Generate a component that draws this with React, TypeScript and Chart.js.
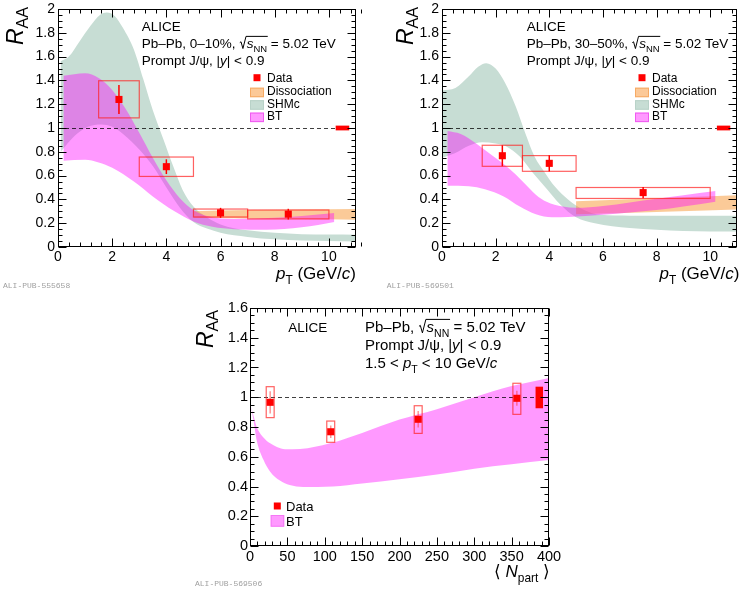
import React, { useEffect, useRef } from "react";
import { Chart, registerables } from "chart.js";
Chart.register(...registerables);

type XY = [number, number];

// ---------------- Panel A : Pb–Pb 0–10 %, R_AA vs pT ----------------
const ptA = [2.25, 4, 6, 8.5];
const raaA = [1.24, 0.675, 0.287, 0.276];
const statA = [0.122, 0.062, 0.042, 0.045];
const sysLowA = [1.085, 0.593, 0.252, 0.236];
const sysHighA = [1.397, 0.756, 0.319, 0.311];
const binLowA = [1.5, 3, 5, 7];
const binHighA = [3, 5, 7, 10];
const globXA = [10.25, 10.75];
const globYA = [0.98, 1.02];
const shmcHighA: XY[] = [[0.1, 1.56], [0.4, 1.6], [0.8, 1.73], [1.2, 1.86], [1.55, 1.95], [1.8, 1.97], [2.1, 1.94], [2.4, 1.84], [2.8, 1.66], [3.15, 1.41], [3.5, 1.15], [3.9, 0.9], [4.25, 0.68], [4.6, 0.48], [5, 0.34], [5.5, 0.25], [6, 0.19], [7, 0.14], [8, 0.12], [9, 0.108], [10, 0.104], [11, 0.103]];
const shmcLowA: XY[] = [[0.1, 0.8], [0.6, 0.93], [1.1, 1.01], [1.6, 1.03], [2.0, 1.01], [2.4, 0.95], [3, 0.82], [3.5, 0.68], [4, 0.5], [4.5, 0.33], [5, 0.21], [5.5, 0.155], [6, 0.12], [7, 0.085], [8, 0.065], [9, 0.055], [10, 0.05], [11, 0.047]];
const btHighA: XY[] = [[0.2, 1.44], [1, 1.46], [1.5, 1.42], [2, 1.32], [2.5, 1.16], [3, 0.96], [3.5, 0.75], [4, 0.56], [4.5, 0.41], [5, 0.31], [5.5, 0.26], [6.5, 0.235], [8, 0.245], [9, 0.26], [10.2, 0.285]];
const btLowA: XY[] = [[0.2, 0.725], [1, 0.733], [1.5, 0.71], [2, 0.665], [2.8, 0.55], [3.5, 0.425], [4.3, 0.3], [5, 0.215], [5.7, 0.17], [6.5, 0.15], [7.7, 0.145], [9, 0.165], [10.2, 0.21]];
const dissHighA: XY[] = [[5, 0.3], [7, 0.31], [9, 0.315], [11, 0.32]];
const dissLowA: XY[] = [[5, 0.245], [7, 0.24], [9, 0.235], [11, 0.23]];

// ---------------- Panel B : Pb–Pb 30–50 %, R_AA vs pT ----------------
const ptB = [2.25, 4, 7.5];
const raaB = [0.767, 0.703, 0.457];
const statB = [0.088, 0.068, 0.047];
const sysLowB = [0.678, 0.636, 0.408];
const sysHighB = [0.855, 0.768, 0.5];
const binLowB = [1.5, 3, 5];
const binHighB = [3, 5, 10];
const globXB = [10.25, 10.75];
const globYB = [0.98, 1.02];
const shmcHighB: XY[] = [[0, 1.316], [0.5, 1.336], [1, 1.434], [1.35, 1.515], [1.65, 1.545], [2, 1.5], [2.35, 1.38], [2.75, 1.18], [3.1, 0.96], [3.45, 0.76], [3.85, 0.62], [4.2, 0.51], [4.7, 0.4], [5.3, 0.31], [5.9, 0.27], [7, 0.263], [11, 0.263]];
const shmcLowB: XY[] = [[0, 0.75], [0.5, 0.79], [1, 0.85], [1.5, 0.88], [2, 0.87], [2.4, 0.845], [2.9, 0.76], [3.4, 0.62], [3.9, 0.49], [4.4, 0.36], [5, 0.25], [5.7, 0.2], [7, 0.16], [8, 0.145], [9, 0.135], [11, 0.13]];
const btHighB: XY[] = [[0.2, 0.975], [0.7, 0.95], [1.25, 0.875], [1.75, 0.79], [2.25, 0.705], [2.75, 0.61], [3.1, 0.53], [3.5, 0.44], [3.9, 0.38], [4.5, 0.34], [5, 0.33], [6, 0.345], [7, 0.375], [8, 0.405], [9, 0.435], [10.2, 0.47]];
const btLowB: XY[] = [[0.2, 0.515], [1, 0.51], [1.6, 0.485], [2.3, 0.425], [2.9, 0.34], [3.5, 0.275], [4.1, 0.25], [4.7, 0.252], [6, 0.27], [7, 0.29], [8, 0.31], [9, 0.34], [10.2, 0.38]];
const dissHighB: XY[] = [[5, 0.385], [8, 0.41], [11, 0.435]];
const dissLowB: XY[] = [[5, 0.275], [8, 0.295], [11, 0.315]];

// ---------------- Panel C : R_AA vs <Npart> ----------------
const npartC = [27, 108, 225, 357];
const raaC = [0.966, 0.768, 0.852, 0.993];
const statC = [0.075, 0.042, 0.055, 0.05];
const sysLowC = [0.863, 0.697, 0.757, 0.885];
const sysHighC = [1.071, 0.84, 0.943, 1.094];
const binLowC = [21.7, 102.7, 219.7, 351.7];
const binHighC = [32.3, 113.3, 230.3, 362.3];
const globXC = [382, 392];
const globYC = [0.926, 1.071];
const btHighC: XY[] = [[1.5, 0.935], [5, 0.87], [9, 0.8], [18, 0.73], [27, 0.69], [36, 0.665], [47, 0.65], [67, 0.652], [107, 0.69], [150, 0.76], [200, 0.85], [250, 0.92], [300, 1.0], [350, 1.075], [400, 1.13]];
const btLowC: XY[] = [[1.5, 0.935], [4.5, 0.85], [9, 0.71], [18, 0.58], [27, 0.5], [40, 0.44], [53, 0.41], [71, 0.397], [111, 0.4], [150, 0.42], [200, 0.448], [250, 0.48], [300, 0.52], [350, 0.55], [400, 0.578]];

// ---------------- axis ticks ----------------
const xTicksPt = [0, 2, 4, 6, 8, 10];
const yTicksPt = [0, 0.2, 0.4, 0.6, 0.8, 1, 1.2, 1.4, 1.6, 1.8, 2];
const xTicksNpart = [0, 50, 100, 150, 200, 250, 300, 350, 400];
const yTicksNpart = [0, 0.2, 0.4, 0.6, 0.8, 1, 1.2, 1.4, 1.6];

// ---------------- styles ----------------
const FONT = '"Liberation Sans", Arial, Helvetica, sans-serif';
const SHMC_COLOR = "rgb(199,221,212)";
const DISS_COLOR = "rgba(248,150,50,0.5)";
const BT_COLOR = "rgba(255,0,255,0.4)";
const RED = "#ff0000";
const BOX_COLOR = "rgba(255,30,30,0.7)";

type Seg = { t?: string; it?: boolean; sub?: boolean; open?: boolean; close?: boolean };

function fontStr(size: number, it?: boolean) {
  return `${it ? "italic " : ""}${size}px ${FONT}`;
}
function segWidth(ctx: CanvasRenderingContext2D, s: Seg, size: number) {
  if (s.open) return size * 0.55;
  if (s.close) return 0;
  ctx.font = fontStr(s.sub ? size * 0.7 : size, s.it);
  return ctx.measureText(s.t || "").width;
}
function drawRich(ctx: CanvasRenderingContext2D, segs: Seg[], x: number, y: number, size: number, align: "left" | "right" | "center" = "left", subShift = 0.28) {
  const total = segs.reduce((a, s) => a + segWidth(ctx, s, size), 0);
  let cx = align === "left" ? x : align === "right" ? x - total : x - total / 2;
  let radStart = 0;
  ctx.fillStyle = "#000";
  ctx.strokeStyle = "#000";
  ctx.textBaseline = "alphabetic";
  ctx.textAlign = "left";
  for (const s of segs) {
    const w = segWidth(ctx, s, size);
    if (s.open) {
      ctx.lineWidth = 1;
      ctx.beginPath();
      ctx.moveTo(cx + 0.04 * size, y - 0.4 * size);
      ctx.lineTo(cx + 0.13 * size, y - 0.46 * size);
      ctx.lineTo(cx + 0.27 * size, y + 0.04 * size);
      ctx.lineTo(cx + 0.5 * size, y - 0.86 * size);
      ctx.stroke();
      radStart = cx + 0.5 * size;
    } else if (s.close) {
      ctx.lineWidth = 1;
      ctx.beginPath();
      ctx.moveTo(radStart, y - 0.86 * size);
      ctx.lineTo(cx + 0.05 * size, y - 0.86 * size);
      ctx.stroke();
    } else {
      ctx.font = fontStr(s.sub ? size * 0.7 : size, s.it);
      ctx.fillText(s.t || "", cx, y + (s.sub ? size * subShift : 0));
    }
    cx += w;
  }
}
function drawRotatedTitle(ctx: CanvasRenderingContext2D, bx: number, topY: number, size: number) {
  ctx.save();
  ctx.translate(bx, topY);
  ctx.rotate(-Math.PI / 2);
  drawRich(ctx, [{ t: "R", it: true }, { t: "AA", sub: true }], 0, 0, size, "right", 0.22);
  ctx.restore();
}
function drawAliTag(ctx: CanvasRenderingContext2D, text: string, x: number, y: number) {
  ctx.save();
  ctx.font = `8px "Liberation Mono", "DejaVu Sans Mono", monospace`;
  ctx.fillStyle = "#a0a0a0";
  ctx.textAlign = "left";
  ctx.textBaseline = "alphabetic";
  ctx.fillText(text, x, y);
  ctx.restore();
}
function legendBox(ctx: CanvasRenderingContext2D, x: number, y: number, w: number, h: number, fill: string, stroke: string) {
  ctx.fillStyle = fill;
  ctx.fillRect(x, y, w, h);
  ctx.strokeStyle = stroke;
  ctx.lineWidth = 1;
  ctx.strokeRect(x + 0.5, y + 0.5, w - 1, h - 1);
}
function legendText(ctx: CanvasRenderingContext2D, t: string, x: number, y: number, size: number) {
  ctx.font = fontStr(size);
  ctx.fillStyle = "#000";
  ctx.textAlign = "left";
  ctx.textBaseline = "alphabetic";
  ctx.fillText(t, x, y);
}
function legendMarker(ctx: CanvasRenderingContext2D, x: number, y: number, s: number) {
  ctx.fillStyle = RED;
  ctx.fillRect(x - s / 2, y - s / 2, s, s);
}

interface Band { hi: XY[]; lo: XY[]; color: string; order: number }
interface Panel {
  W: number; H: number; left: number; top: number;
  L: number; R: number; T: number; B: number;
  xMin: number; xMax: number; yMin: number; yMax: number;
  xTicks: number[]; yTicks: number[]; xMinor: number; yMinor: number;
  tickFont: number; labelPadX: number; labelPadY: number;
  bands: Band[];
  px: number[]; py: number[]; stat: number[]; sysLo: number[]; sysHi: number[]; binLo: number[]; binHi: number[];
  globX: number[]; globY: number[];
  statColor: string; statWidth: number;
  texts: (ctx: CanvasRenderingContext2D) => void;
}

const ptTitle: Seg[] = [{ t: "p", it: true }, { t: "T", sub: true }, { t: " (GeV/" }, { t: "c", it: true }, { t: ")" }];
const promptLine: Seg[] = [{ t: "Prompt J/ψ, |" }, { t: "y", it: true }, { t: "| < 0.9" }];
const sqrtPart: Seg[] = [{ open: true }, { t: "s", it: true }, { t: "NN", sub: true }, { close: true }, { t: " = 5.02 TeV" }];

function topLegend(ctx: CanvasRenderingContext2D, bx: number) {
  const size = 12;
  legendMarker(ctx, bx + 7, 77.7, 7);
  legendText(ctx, "Data", bx + 17, 81.8, size);
  legendBox(ctx, bx, 87.7, 14, 9.5, "rgb(252,201,152)", "rgb(246,170,100)");
  legendText(ctx, "Dissociation", bx + 17, 95, size);
  legendBox(ctx, bx, 100.2, 14, 9.5, SHMC_COLOR, "rgb(185,210,200)");
  legendText(ctx, "SHMc", bx + 17, 107.8, size);
  legendBox(ctx, bx, 112.6, 14, 9.5, "rgb(255,153,255)", "rgb(240,90,240)");
  legendText(ctx, "BT", bx + 17, 120.4, size);
}

const panelA: Panel = {
  W: 371, H: 295, left: 0, top: 0, L: 58, R: 356, T: 9, B: 247,
  xMin: 0, xMax: 11, yMin: 0, yMax: 2, xTicks: xTicksPt, yTicks: yTicksPt, xMinor: 0.4, yMinor: 0.05,
  tickFont: 14, labelPadX: 2, labelPadY: 3,
  bands: [
    { hi: shmcHighA, lo: shmcLowA, color: SHMC_COLOR, order: 4 },
    { hi: dissHighA, lo: dissLowA, color: DISS_COLOR, order: 3 },
    { hi: btHighA, lo: btLowA, color: BT_COLOR, order: 2 },
  ],
  px: ptA, py: raaA, stat: statA, sysLo: sysLowA, sysHi: sysHighA, binLo: binLowA, binHi: binHighA,
  globX: globXA, globY: globYA, statColor: RED, statWidth: 1.5,
  texts: (ctx) => {
    drawRotatedTitle(ctx, 23, 7, 23);
    drawRich(ctx, [{ t: "ALICE" }], 141.7, 31, 13.5);
    drawRich(ctx, [{ t: "Pb–Pb, 0–10%, " }, ...sqrtPart], 141.7, 48, 13.5);
    drawRich(ctx, promptLine, 141.7, 65, 13.5);
    topLegend(ctx, 250);
    drawRich(ctx, ptTitle, 356, 279, 17, "right");
    drawAliTag(ctx, "ALI-PUB-555658", 3, 288);
  },
};

const panelB: Panel = {
  W: 371, H: 295, left: 371, top: 0, L: 71, R: 368.5, T: 9, B: 247,
  xMin: 0, xMax: 11, yMin: 0, yMax: 2, xTicks: xTicksPt, yTicks: yTicksPt, xMinor: 0.4, yMinor: 0.05,
  tickFont: 14, labelPadX: 2, labelPadY: 3,
  bands: [
    { hi: shmcHighB, lo: shmcLowB, color: SHMC_COLOR, order: 4 },
    { hi: dissHighB, lo: dissLowB, color: DISS_COLOR, order: 3 },
    { hi: btHighB, lo: btLowB, color: BT_COLOR, order: 2 },
  ],
  px: ptB, py: raaB, stat: statB, sysLo: sysLowB, sysHi: sysHighB, binLo: binLowB, binHi: binHighB,
  globX: globXB, globY: globYB, statColor: RED, statWidth: 1.5,
  texts: (ctx) => {
    drawRotatedTitle(ctx, 42, 7, 23);
    drawRich(ctx, [{ t: "ALICE" }], 155.7, 31, 13.5);
    drawRich(ctx, [{ t: "Pb–Pb, 30–50%, " }, ...sqrtPart], 155.7, 48, 13.5);
    drawRich(ctx, promptLine, 155.7, 65, 13.5);
    topLegend(ctx, 264);
    drawRich(ctx, ptTitle, 368.5, 279, 17, "right");
    drawAliTag(ctx, "ALI-PUB-569501", 15.7, 288);
  },
};

const panelC: Panel = {
  W: 400, H: 296, left: 180, top: 295, L: 70, R: 369, T: 13, B: 251,
  xMin: 0, xMax: 400, yMin: 0, yMax: 1.6, xTicks: xTicksNpart, yTicks: yTicksNpart, xMinor: 10, yMinor: 0.05,
  tickFont: 14.5, labelPadX: 2, labelPadY: 2,
  bands: [{ hi: btHighC, lo: btLowC, color: BT_COLOR, order: 2 }],
  px: npartC, py: raaC, stat: statC, sysLo: sysLowC, sysHi: sysHighC, binLo: binLowC, binHi: binHighC,
  globX: globXC, globY: globYC, statColor: "rgba(255,60,60,0.55)", statWidth: 1.5,
  texts: (ctx) => {
    drawRotatedTitle(ctx, 33, 15, 23);
    drawRich(ctx, [{ t: "ALICE" }], 108.3, 37.3, 13.5);
    drawRich(ctx, [{ t: "Pb–Pb, " }, ...sqrtPart], 185, 37.3, 15);
    drawRich(ctx, promptLine, 185, 55, 15);
    drawRich(ctx, [{ t: "1.5 < " }, { t: "p", it: true }, { t: "T", sub: true }, { t: " < 10 GeV/" }, { t: "c", it: true }], 185, 73.3, 15);
    legendMarker(ctx, 97.3, 211, 7);
    legendText(ctx, "Data", 106, 215.5, 13);
    legendBox(ctx, 90.7, 220, 13.5, 11.7, "rgb(255,153,255)", "rgb(245,120,245)");
    legendText(ctx, "BT", 106, 230.5, 13);
    drawRich(ctx, [{ t: "⟨ " }, { t: "N", it: true }, { t: "part", sub: true }, { t: " ⟩" }], 370, 282, 17, "right");
    drawAliTag(ctx, "ALI-PUB-569506", 15, 291);
  },
};

const panels = [panelA, panelB, panelC];

function fmt(v: number) {
  return String(Math.round(v * 1000) / 1000);
}

function makeChart(canvas: HTMLCanvasElement, p: Panel) {
  const datasets: any[] = [];
  for (const b of p.bands) {
    datasets.push({
      data: b.hi.map(([x, y]) => ({ x, y })),
      fill: "+1", backgroundColor: b.color, borderColor: "transparent", borderWidth: 0,
      pointRadius: 0, cubicInterpolationMode: "monotone", order: b.order,
    });
    datasets.push({
      data: b.lo.map(([x, y]) => ({ x, y })),
      fill: false, backgroundColor: b.color, borderColor: "transparent", borderWidth: 0,
      pointRadius: 0, cubicInterpolationMode: "monotone", order: b.order,
    });
  }
  datasets.push({
    isData: true,
    data: p.px.map((x, i) => ({ x, y: p.py[i] })),
    showLine: false, pointStyle: "rect", pointRadius: 5, pointBackgroundColor: RED,
    pointBorderWidth: 0, pointBorderColor: RED, order: 0,
  });

  const decor = {
    id: "decor",
    beforeDatasetDraw(chart: any, args: any) {
      const ds = chart.data.datasets[args.index];
      if (!ds || !ds.isData) return;
      const { ctx, scales: { x, y }, chartArea: a } = chart;
      ctx.save();
      // dashed unity line
      ctx.strokeStyle = "rgba(0,0,0,0.75)";
      ctx.lineWidth = 1;
      ctx.setLineDash([4, 3]);
      const y1 = Math.round(y.getPixelForValue(1)) + 0.5;
      ctx.beginPath();
      ctx.moveTo(x.getPixelForValue(p.xMin), y1);
      ctx.lineTo(x.getPixelForValue(p.xMax), y1);
      ctx.stroke();
      ctx.setLineDash([]);
      // systematic boxes
      ctx.strokeStyle = BOX_COLOR;
      ctx.lineWidth = 1.2;
      for (let i = 0; i < p.px.length; i++) {
        const x0 = x.getPixelForValue(p.binLo[i]);
        const x1 = x.getPixelForValue(p.binHi[i]);
        const yt = y.getPixelForValue(p.sysHi[i]);
        const yb = y.getPixelForValue(p.sysLo[i]);
        ctx.strokeRect(x0, yt, x1 - x0, yb - yt);
      }
      // statistical errors
      ctx.strokeStyle = p.statColor;
      ctx.lineWidth = p.statWidth;
      for (let i = 0; i < p.px.length; i++) {
        const xc = x.getPixelForValue(p.px[i]);
        ctx.beginPath();
        ctx.moveTo(xc, y.getPixelForValue(p.py[i] + p.stat[i]));
        ctx.lineTo(xc, y.getPixelForValue(p.py[i] - p.stat[i]));
        ctx.stroke();
      }
      // global normalisation uncertainty
      ctx.fillStyle = RED;
      const gx0 = x.getPixelForValue(p.globX[0]);
      const gx1 = x.getPixelForValue(p.globX[1]);
      const gy0 = y.getPixelForValue(p.globY[1]);
      const gy1 = y.getPixelForValue(p.globY[0]);
      ctx.fillRect(gx0, gy0, gx1 - gx0, gy1 - gy0);
      ctx.restore();
    },
    afterDraw(chart: any) {
      const { ctx, scales: { x, y }, chartArea: a } = chart;
      ctx.save();
      ctx.strokeStyle = "#000";
      ctx.lineWidth = 1;
      const l = Math.round(a.left) + 0.5, r = Math.round(a.right) - 0.5;
      const t = Math.round(a.top) + 0.5, b = Math.round(a.bottom) - 0.5;
      ctx.strokeRect(l, t, r - l, b - t);
      ctx.beginPath();
      const nx = Math.round((p.xMax - p.xMin) / p.xMinor);
      const majX = Math.round((p.xTicks[1] - p.xTicks[0]) / p.xMinor);
      for (let i = 0; i <= nx; i++) {
        const v = p.xMin + i * p.xMinor;
        const xp = Math.round(x.getPixelForValue(v)) + 0.5;
        const len = i % majX === 0 ? 8 : 4;
        ctx.moveTo(xp, b); ctx.lineTo(xp, b - len);
        ctx.moveTo(xp, t); ctx.lineTo(xp, t + len);
      }
      const ny = Math.round((p.yMax - p.yMin) / p.yMinor);
      const majY = Math.round((p.yTicks[1] - p.yTicks[0]) / p.yMinor);
      for (let i = 0; i <= ny; i++) {
        const v = p.yMin + i * p.yMinor;
        const yp = Math.round(y.getPixelForValue(v)) + 0.5;
        const len = i % majY === 0 ? 8 : 4;
        ctx.moveTo(l, yp); ctx.lineTo(l + len, yp);
        ctx.moveTo(r, yp); ctx.lineTo(r - len, yp);
      }
      ctx.stroke();
      p.texts(ctx);
      ctx.restore();
    },
  };

  return new Chart(canvas, {
    type: "line",
    data: { datasets },
    options: {
      responsive: false,
      maintainAspectRatio: false,
      animation: false,
      devicePixelRatio: 1,
      events: [],
      layout: { padding: { left: 0, right: p.W - p.R, top: p.T, bottom: 0 } },
      plugins: { legend: { display: false }, tooltip: { enabled: false }, title: { display: false } },
      scales: {
        x: {
          type: "linear", position: "bottom", min: p.xMin, max: p.xMax,
          grid: { display: false, drawTicks: false }, border: { display: false },
          ticks: {
            color: "#000", font: { family: FONT, size: p.tickFont }, padding: p.labelPadX,
            maxRotation: 0, autoSkip: false, callback: (v: any) => fmt(Number(v)),
          },
          afterBuildTicks: (s: any) => { s.ticks = p.xTicks.map((v) => ({ value: v })); },
          afterFit: (s: any) => { s.height = p.H - p.B; s.paddingLeft = 0; s.paddingRight = 0; },
        },
        y: {
          type: "linear", position: "left", min: p.yMin, max: p.yMax,
          grid: { display: false, drawTicks: false }, border: { display: false },
          ticks: {
            color: "#000", font: { family: FONT, size: p.tickFont }, padding: p.labelPadY,
            autoSkip: false, callback: (v: any) => fmt(Number(v)),
          },
          afterBuildTicks: (s: any) => { s.ticks = p.yTicks.map((v) => ({ value: v })); },
          afterFit: (s: any) => { s.width = p.L; s.paddingTop = 0; s.paddingBottom = 0; },
        },
      },
    } as any,
    plugins: [decor],
  });
}

export default function App() {
  const r0 = useRef<HTMLCanvasElement>(null);
  const r1 = useRef<HTMLCanvasElement>(null);
  const r2 = useRef<HTMLCanvasElement>(null);
  const refs = [r0, r1, r2];
  useEffect(() => {
    const charts = panels.map((p, i) => makeChart(refs[i].current as HTMLCanvasElement, p));
    return () => charts.forEach((c) => c.destroy());
  }, []);
  return (
    <div style={{ position: "absolute", left: 0, top: 0, width: 742, height: 591, background: "#fff", overflow: "hidden" }}>
      {panels.map((p, i) => (
        <canvas
          key={i}
          ref={refs[i]}
          width={p.W}
          height={p.H}
          style={{ position: "absolute", left: p.left, top: p.top, width: p.W, height: p.H }}
        />
      ))}
    </div>
  );
}
